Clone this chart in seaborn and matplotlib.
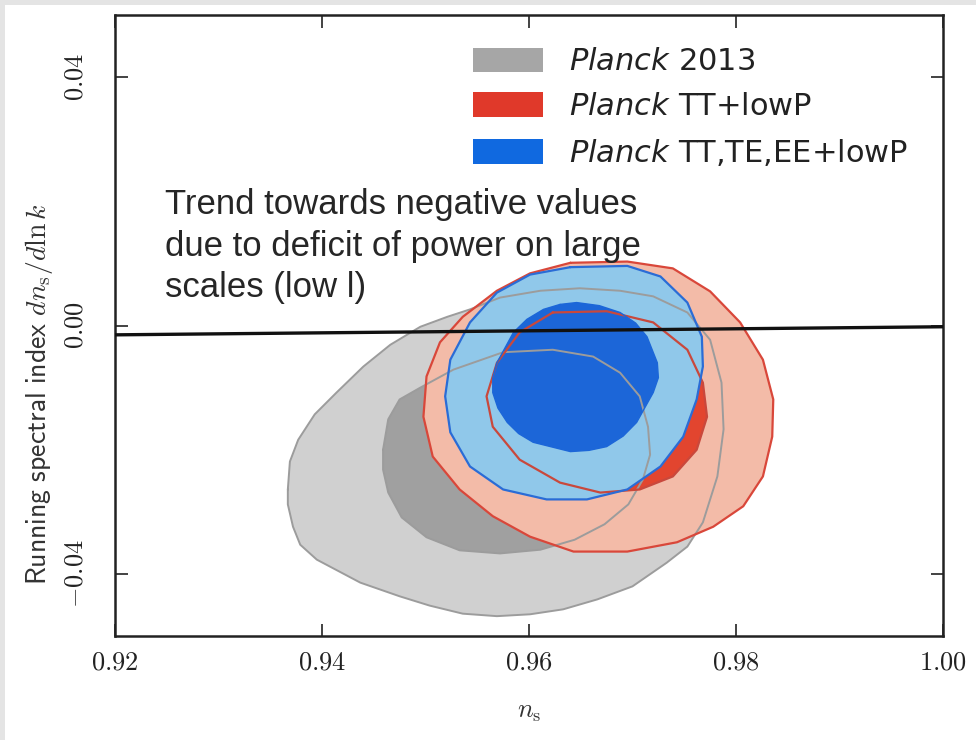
import matplotlib
matplotlib.use("Agg")
import matplotlib.pyplot as plt
from matplotlib.patches import Patch, Rectangle
from matplotlib.ticker import FixedLocator, FuncFormatter
import seaborn as sns

# contour outlines: (n_s, dn_s/dlnk)
p13_outer_ns = [0.9367, 0.9369, 0.9377, 0.9393, 0.9414, 0.9440, 0.9466, 0.9495, 0.9521, 0.9543,
                0.9572, 0.9611, 0.9649, 0.9688, 0.9720, 0.9753, 0.9775, 0.9786, 0.9788, 0.9782,
                0.9768, 0.9753, 0.9733, 0.9700, 0.9666, 0.9633, 0.9601, 0.9569, 0.9536, 0.9504,
                0.9475, 0.9437, 0.9395, 0.9379, 0.9372, 0.9367]
p13_outer_run = [-0.0264, -0.0219, -0.0184, -0.0143, -0.0108, -0.0066, -0.0031, -0.0002, 0.0014, 0.0026,
                 0.0045, 0.0056, 0.0060, 0.0056, 0.0047, 0.0021, -0.0023, -0.0092, -0.0167, -0.0243,
                 -0.0317, -0.0356, -0.0382, -0.0420, -0.0441, -0.0457, -0.0465, -0.0468, -0.0464, -0.0451,
                 -0.0436, -0.0414, -0.0377, -0.0353, -0.0324, -0.0288]

p13_inner_ns = [0.9459, 0.9464, 0.9475, 0.9495, 0.9527, 0.9575, 0.9623, 0.9662, 0.9688, 0.9707,
                0.9715, 0.9717, 0.9710, 0.9696, 0.9673, 0.9644, 0.9611, 0.9572, 0.9533, 0.9501,
                0.9477, 0.9464, 0.9459]
p13_inner_run = [-0.0200, -0.0151, -0.0119, -0.0100, -0.0071, -0.0043, -0.0039, -0.0050, -0.0076, -0.0114,
                 -0.0163, -0.0208, -0.0248, -0.0288, -0.0320, -0.0345, -0.0361, -0.0367, -0.0362, -0.0341,
                 -0.0309, -0.0269, -0.0232]

tt_outer_ns = [0.9640, 0.9695, 0.9739, 0.9775, 0.9804, 0.9826, 0.9836, 0.9835, 0.9826, 0.9807,
               0.9778, 0.9743, 0.9695, 0.9643, 0.9601, 0.9565, 0.9533, 0.9507, 0.9498, 0.9501,
               0.9514, 0.9536, 0.9569, 0.9601]
tt_outer_run = [0.0101, 0.0103, 0.0092, 0.0055, 0.0005, -0.0055, -0.0119, -0.0179, -0.0243, -0.0291,
                -0.0324, -0.0349, -0.0364, -0.0364, -0.0340, -0.0307, -0.0264, -0.0211, -0.0147, -0.0082,
                -0.0027, 0.0014, 0.0056, 0.0084]

tt_inner_ns = [0.9623, 0.9675, 0.9720, 0.9753, 0.9768, 0.9772, 0.9762, 0.9739, 0.9707, 0.9669,
               0.9630, 0.9591, 0.9565, 0.9559, 0.9569, 0.9591]
tt_inner_run = [0.0021, 0.0023, 0.0005, -0.0039, -0.0092, -0.0147, -0.0200, -0.0243, -0.0264, -0.0269,
                -0.0253, -0.0216, -0.0163, -0.0114, -0.0060, -0.0011]

ttteee_outer_ns = [0.9640, 0.9695, 0.9727, 0.9753, 0.9767, 0.9768, 0.9762, 0.9749, 0.9727, 0.9695,
                   0.9656, 0.9617, 0.9575, 0.9543, 0.9524, 0.9519, 0.9524, 0.9543, 0.9569, 0.9601]
ttteee_outer_run = [0.0094, 0.0096, 0.0079, 0.0037, -0.0018, -0.0066, -0.0119, -0.0179, -0.0227, -0.0264,
                    -0.0280, -0.0280, -0.0264, -0.0227, -0.0172, -0.0114, -0.0055, 0.0005, 0.0053, 0.0082]

ttteee_inner_ns = [0.9630, 0.9646, 0.9668, 0.9688, 0.9703, 0.9714, 0.9724, 0.9725, 0.9720, 0.9704,
                   0.9691, 0.9675, 0.9658, 0.9640, 0.9604, 0.9590, 0.9579, 0.9570, 0.9565, 0.9565,
                   0.9569, 0.9585, 0.9598, 0.9614]
ttteee_inner_run = [0.0034, 0.0037, 0.0032, 0.0021, 0.0004, -0.0018, -0.0060, -0.0084, -0.0108, -0.0156,
                    -0.0178, -0.0195, -0.0201, -0.0203, -0.0188, -0.0174, -0.0156, -0.0133, -0.0108, -0.0084,
                    -0.0060, -0.0011, 0.0010, 0.0026]

# hand-drawn reference line near zero
trend_ns = [0.92, 1.00]
trend_run = [-0.0015, -0.0002]

xticks = [0.92, 0.94, 0.96, 0.98, 1.00]
yticks = [-0.04, 0.00, 0.04]
labels = [r"$\mathit{Planck}$ 2013", r"$\mathit{Planck}$ TT+lowP", r"$\mathit{Planck}$ TT,TE,EE+lowP"]
note = "Trend towards negative values\ndue to deficit of power on large\nscales (low l)"

sns.set_style("ticks")
plt.rcParams["font.family"] = ["DejaVu Sans"]
plt.rcParams["mathtext.fontset"] = "cm"

fig = plt.figure(figsize=(9.76, 7.40), dpi=100)
fig.patch.set_facecolor("#e4e4e4")
fig.add_artist(Rectangle((5 / 976, 0), 1, 1 - 5 / 740, transform=fig.transFigure,
                         facecolor="white", edgecolor="none", zorder=-1))
ax = fig.add_axes([0.1178, 0.1405, 0.8484, 0.8392])

# filled regions
ax.fill(p13_outer_ns, p13_outer_run, facecolor="#d0d0d0", edgecolor="none", zorder=1)
ax.fill(p13_inner_ns, p13_inner_run, facecolor="#a0a0a0", edgecolor="none", zorder=2)
ax.fill(tt_outer_ns, tt_outer_run, facecolor="#f3bba8", edgecolor="none", zorder=3)
ax.fill(tt_inner_ns, tt_inner_run, facecolor="#e2452f", edgecolor="none", zorder=4)
ax.fill(ttteee_outer_ns, ttteee_outer_run, facecolor="#90c8ea", edgecolor="none", zorder=5)
ax.fill(ttteee_inner_ns, ttteee_inner_run, facecolor="#1c66d8", edgecolor="none", zorder=6)


def outline(ns, run, color, lw, z):
    sns.lineplot(x=ns + ns[:1], y=run + run[:1], sort=False, estimator=None, color=color,
                 linewidth=lw, solid_joinstyle="round", ax=ax, zorder=z)


outline(p13_outer_ns, p13_outer_run, "#9c9c9c", 1.4, 7)
outline(p13_inner_ns, p13_inner_run, "#9c9c9c", 1.4, 7)
outline(tt_outer_ns, tt_outer_run, "#d9473a", 1.6, 8)
outline(tt_inner_ns, tt_inner_run, "#c9483c", 1.6, 8)
outline(ttteee_outer_ns, ttteee_outer_run, "#2a6cd6", 1.6, 9)
outline(ttteee_inner_ns, ttteee_inner_run, "#1c66d8", 1.0, 9)

sns.lineplot(x=trend_ns, y=trend_run, color="#111111", linewidth=2.4, ax=ax, zorder=10)

ax.text(0.9248, 0.0221, note, fontsize=25, family="Liberation Sans", va="top", ha="left",
        linespacing=1.33, zorder=11)

handles = [Patch(facecolor="#a6a6a6", edgecolor="none"),
           Patch(facecolor="#e0392a", edgecolor="none"),
           Patch(facecolor="#1069e0", edgecolor="none")]
leg = ax.legend(handles, labels, loc="upper left", bbox_to_anchor=(0.432, 0.948), frameon=False,
                fontsize=22, handlelength=2.3, handleheight=0.85, handletextpad=0.85,
                labelspacing=0.52, borderpad=0, borderaxespad=0)
for t in leg.get_texts():
    t.set_math_fontfamily("dejavusans")
    t.set_color("#222222")

ax.set_xlim(0.92, 1.00)
ax.set_ylim(-0.05, 0.05)
ax.xaxis.set_major_locator(FixedLocator(xticks))
ax.yaxis.set_major_locator(FixedLocator(yticks))
ax.xaxis.set_major_formatter(FuncFormatter(lambda v, _: f"${v:.2f}$"))
ax.yaxis.set_major_formatter(FuncFormatter(lambda v, _: f"${v:.2f}$"))
ax.tick_params(direction="in", length=9, width=1.2, top=True, right=True, labelsize=19, colors="#222222")
ax.tick_params(axis="x", pad=10)
ax.tick_params(axis="y", pad=19, labelrotation=90)
for lab in ax.get_yticklabels():
    lab.set_va("center")
for s in ax.spines.values():
    s.set_linewidth(1.8)
    s.set_color("#222222")

ax.set_xlabel(r"$n_{\rm s}$", fontsize=19, color="#333333")
ax.set_ylabel(r"$\mathsf{Running\ spectral\ index}\ dn_{\rm s}/d\ln k$", fontsize=20, color="#333333")
ax.xaxis.set_label_coords(0.5, -0.1)
ax.yaxis.set_label_coords(-0.072, 0.39)

fig.savefig("out.png", dpi=100, facecolor=fig.get_facecolor())
